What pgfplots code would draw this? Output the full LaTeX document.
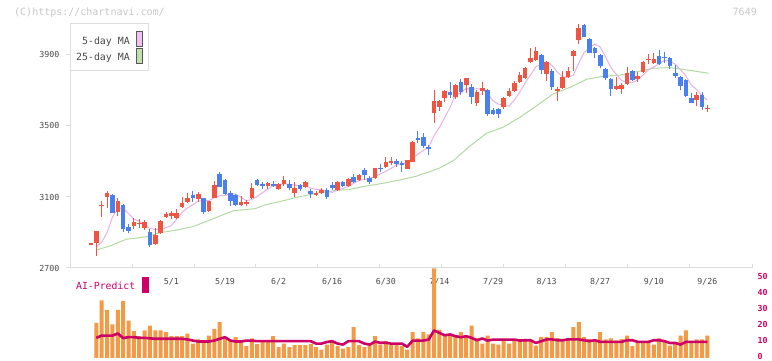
\documentclass[border=0pt]{standalone}
\usepackage{pgfplots}
\pgfplotsset{compat=1.18}
\usepackage{pgfplotstable}
\usepackage{fontspec}
\setmainfont{DejaVu Sans Mono}
\definecolor{upc}{HTML}{F05542}
\definecolor{dnc}{HTML}{4A7FEE}
\definecolor{maf}{HTML}{E8B2E8}
\definecolor{mat}{HTML}{B2DAA2}
\definecolor{volc}{HTML}{F29A45}
\definecolor{aic}{HTML}{CC0066}
\definecolor{axc}{HTML}{DDDDDD}
\definecolor{txt}{HTML}{4A4A4A}
\definecolor{cpy}{HTML}{C8C8C8}

\pgfplotstableread{
i O H L C
0 2833 2838 2833 2838
1 2843 2908 2769 2908
2 3050 3078 2989 3057
3 3098 3135 3040 3120
5 3018 3093 2995 3078
8 2938 2980 2918 2957
9 2948 2975 2925 2955
10 2924 2968 2915 2961
12 2835 2924 2828 2884
13 2897 2968 2890 2965
14 2990 3015 2980 3006
15 2992 3020 2975 3012
16 2984 3031 2978 3012
17 3045 3102 3040 3068
18 3070 3124 3065 3093
20 3087 3128 3070 3117
22 3023 3080 3018 3077
23 3096 3192 3092 3168
28 3057 3105 3050 3073
29 3058 3085 3050 3072
30 3093 3177 3088 3149
33 3162 3183 3145 3177
35 3145 3180 3140 3173
36 3173 3218 3163 3196
38 3124 3186 3098 3152
40 3158 3190 3150 3183
42 3114 3134 3105 3121
43 3124 3148 3115 3139
46 3139 3190 3135 3186
48 3162 3205 3158 3201
50 3196 3230 3190 3224
53 3205 3265 3200 3261
55 3271 3324 3265 3299
56 3295 3324 3280 3302
59 3258 3310 3255 3308
60 3299 3415 3295 3411
64 3575 3703 3519 3641
65 3609 3645 3586 3641
66 3659 3700 3637 3697
68 3665 3737 3650 3731
70 3731 3772 3684 3770
72 3632 3700 3610 3694
73 3699 3750 3675 3714
77 3606 3665 3595 3656
78 3669 3713 3661 3697
79 3697 3753 3689 3744
80 3746 3806 3740 3787
81 3769 3833 3765 3829
82 3860 3938 3855 3885
83 3872 3942 3868 3923
85 3791 3865 3754 3861
87 3700 3718 3641 3707
88 3712 3807 3707 3773
89 3775 3834 3770 3810
90 3894 3928 3810 3925
91 3985 4075 3962 4054
98 3708 3775 3703 3725
99 3708 3742 3680 3731
100 3737 3834 3731 3801
102 3765 3802 3750 3784
103 3806 3865 3800 3862
104 3872 3904 3848 3879
105 3856 3913 3850 3877
113 3647 3690 3613 3675
115 3596 3618 3580 3602
}\tabup

\pgfplotstableread{
i O H L C
4 3111 3115 3010 3012
6 3055 3059 2901 2918
7 2933 2948 2895 2910
11 2905 2918 2817 2830
19 3111 3135 3074 3094
21 3094 3096 3002 3017
24 3230 3243 3155 3158
25 3196 3200 3110 3117
26 3121 3133 3050 3080
27 3110 3115 3050 3055
31 3196 3200 3160 3168
32 3173 3185 3143 3160
34 3172 3190 3155 3165
37 3173 3196 3140 3149
39 3168 3173 3132 3143
41 3134 3143 3096 3117
44 3139 3148 3087 3102
45 3168 3185 3140 3149
47 3186 3190 3158 3162
49 3215 3228 3180 3186
51 3252 3265 3196 3224
52 3205 3220 3175 3186
54 3264 3283 3240 3257
57 3300 3315 3270 3288
58 3292 3300 3243 3283
61 3430 3473 3402 3421
62 3436 3462 3374 3387
63 3380 3390 3336 3372
67 3692 3750 3659 3673
69 3748 3763 3675 3690
71 3722 3735 3622 3665
74 3703 3706 3556 3566
75 3590 3600 3562 3570
76 3595 3600 3545 3570
84 3900 3905 3793 3816
86 3807 3821 3703 3718
92 4069 4072 4000 4003
93 3990 3993 3910 3913
94 3941 3945 3885 3913
95 3900 3903 3825 3840
96 3819 3827 3760 3769
97 3765 3770 3671 3708
101 3810 3815 3755 3759
106 3893 3928 3845 3851
107 3890 3915 3855 3883
108 3885 3890 3823 3840
109 3797 3844 3769 3782
110 3778 3780 3703 3727
111 3759 3762 3665 3671
112 3659 3688 3628 3631
114 3675 3693 3590 3609
}\tabdn

\pgfplotstableread{
i m
1 2820
2 2845
3 2900
4 2987
5 3035
6 3036
7 3007
8 2975
9 2964
10 2939
11 2923
12 2917
13 2918
14 2928
15 2939
16 2976
17 3013
18 3038
19 3056
20 3077
21 3078
22 3080
23 3095
24 3107
25 3107
26 3120
27 3116
28 3097
29 3079
30 3086
31 3103
32 3124
33 3145
34 3164
35 3169
36 3174
37 3172
38 3167
39 3163
40 3165
41 3149
42 3143
43 3141
44 3132
45 3126
46 3139
47 3148
48 3160
49 3177
50 3192
51 3199
52 3204
53 3216
54 3230
55 3245
56 3261
57 3281
58 3286
59 3296
60 3318
61 3342
62 3362
63 3380
64 3446
65 3492
66 3548
67 3605
68 3677
69 3686
70 3712
71 3706
72 3710
73 3707
74 3682
75 3642
76 3623
77 3615
78 3612
79 3647
80 3691
81 3743
82 3788
83 3834
84 3848
85 3863
86 3841
87 3805
88 3775
89 3774
90 3787
91 3854
92 3913
93 3941
94 3962
95 3945
96 3888
97 3829
98 3791
99 3755
100 3747
101 3745
102 3760
103 3787
104 3817
105 3832
106 3851
107 3870
108 3866
109 3847
110 3817
111 3781
112 3730
113 3705
114 3670
115 3645
}\tabmaf

\pgfplotstableread{
i m
1 2801
3.5 2824
6.6 2862
10.4 2876
12.9 2899
16 2914
19 2933
22.2 2970
25.3 3008
26.6 3023
30.6 3034
32.4 3055
35.9 3079
39 3102
42.1 3121
45.2 3135
48.3 3143
51.4 3162
54.5 3177
57.7 3196
60.8 3218
63.9 3250
65.1 3264
67.6 3305
70.7 3387
73.8 3459
76.9 3493
80 3548
83.1 3613
86.2 3680
89.4 3718
92.5 3763
95.6 3780
98.7 3787
101.8 3806
104.9 3825
108 3829
111.1 3816
115.2 3797
}\tabmat

\pgfplotstableread{
i v a
1 22 12.6
2 36 14
3 30 14
4 21 14
5 30 15.3
6 35.5 12.5
7 23.4 13
8 16.8 13
9 13.6 12.6
10 17.2 12.6
11 20.3 12.3
12 17.2 12
13 17.2 12
14 16.1 12
15 13.6 12
16 13.6 12
17 13.6 12
18 15.3 11.6
19 9 10.9
20 11.6 10.3
21 10.5 10.3
22 14 10.3
23 18.2 10.9
24 22.4 12
25 13 13
26 10.5 10.9
27 13 10.3
28 10.5 10.3
29 7.4 10.9
30 12.2 10.9
31 8.6 10.5
32 9.9 10.5
33 10.9 10.5
34 13.6 10.5
35 6.8 10.5
36 9 10.5
37 6.8 10.5
38 8 10.5
39 8 10.5
40 8 10.5
41 8.9 10.5
42 6.8 9
43 5.3 9
44 8.4 10
45 9.9 10.5
46 7.4 9
47 5.9 8.4
48 6.8 10.5
49 19.3 10.5
50 8 10.5
51 6.8 9
52 8 8.4
53 13.6 10.2
54 8.4 9.5
55 10.5 9.5
56 8.4 9
57 8 9
58 7.4 9
59 5.3 7
60 16.1 10.9
61 12.2 10.9
62 16.1 10.9
63 14.7 11.5
64 56 17.2
65 17.8 15.7
66 14 14.2
67 14.7 14.7
68 13.6 13.6
69 16.1 13
70 13.6 13.6
71 20.3 12.6
72 12.6 11.1
73 9 12.2
74 14 10.9
75 9 11.5
76 8.4 11.5
77 10.9 11.5
78 9 11.5
79 10.9 11.5
80 10.9 10.9
81 10.5 11.1
82 10.5 11.1
83 7.8 9.4
84 13.2 10.5
85 13.2 11.6
86 16.1 11.6
87 12.6 11.1
88 11.6 11.1
89 12.6 11.6
90 19.3 11.6
91 22.4 11.6
92 13.2 11.1
93 12 10.5
94 11.6 11.1
95 16.1 10.1
96 11.6 10.1
97 12.2 10.1
98 10.9 10.1
99 12 10.1
100 14 11.1
101 7.4 11.1
102 10.5 10.1
103 10.5 10.1
104 10.5 10.1
105 8.4 11.1
106 12.2 11.1
107 10.9 10.5
108 7.8 9.4
109 8.9 9.4
110 14 8.4
111 17.2 10.1
112 10.5 10.1
113 11.6 10.1
114 11.6 10.1
115 14 10.1
}\tabvol

\begin{document}
\begin{tikzpicture}[x=1pt,y=1pt]
\path[use as bounding box, fill=white] (0,0) rectangle (772,361);

\begin{axis}[
  at={(70pt,93pt)}, anchor=south west, scale only axis,
  width=682pt, height=245pt,
  xmin=-3.918, xmax=123.32, ymin=2700, ymax=4080,
  axis lines=left, axis line style={-, draw=axc, line width=1pt},
  ytick={2700,3100,3500,3900}, yticklabels={2700,3100,3500,3900},
  xtick={-3.918,7.649,19.216,30.783,42.35,53.917,65.484,77.051,88.618,100.185,111.752,123.32},
  xticklabels={},
  extra x ticks={15,25,35,45,55,65,75,85,95,105,115},
  extra x tick labels={5/1,5/19,6/2,6/16,6/30,7/14,7/29,8/13,8/27,9/10,9/26},
  extra x tick style={major tick length=0pt, tick label style={yshift=-7pt}},
  xtick align=inside, ytick align=outside, major tick length=4pt,
  tick style={draw=axc, line width=1pt},
  ticklabel style={font=\fontsize{8.3}{10}\selectfont, text=txt},
  yticklabel style={xshift=-3pt},
  candle/.style={draw=none, no markers, error bars/.cd, y dir=both, y explicit, error mark=none},
]
\addplot[mat, line width=1pt] table[x=i, y=m] {\tabmat};
\addplot[maf, line width=1pt] table[x=i, y=m] {\tabmaf};
% wicks
\addplot[candle, error bar style={draw=upc, line width=1pt}]
  table[x=i, y expr={(\thisrow{H}+\thisrow{L})/2}, y error expr={(\thisrow{H}-\thisrow{L})/2}] {\tabup};
\addplot[candle, error bar style={draw=dnc, line width=1pt}]
  table[x=i, y expr={(\thisrow{H}+\thisrow{L})/2}, y error expr={(\thisrow{H}-\thisrow{L})/2}] {\tabdn};
% bodies
\addplot[candle, error bar style={draw=upc, line width=4.6pt}]
  table[x=i, y expr={(\thisrow{O}+\thisrow{C})/2}, y error expr={(\thisrow{C}-\thisrow{O})/2}] {\tabup};
\addplot[candle, error bar style={draw=dnc, line width=4.6pt}]
  table[x=i, y expr={(\thisrow{O}+\thisrow{C})/2}, y error expr={(\thisrow{O}-\thisrow{C})/2}] {\tabdn};
\end{axis}

\begin{axis}[
  at={(70pt,3pt)}, anchor=south west, scale only axis,
  width=682pt, height=80pt,
  xmin=-3.918, xmax=123.32, ymin=0, ymax=50,
  clip=false,
  axis line style={draw=none}, xtick=\empty,
  ytick={0,10,20,30,40,50}, yticklabels={0,10,20,30,40,50},
  yticklabel pos=right, major tick length=0pt,
  ticklabel style={font=\fontsize{8.3}{10}\selectfont\bfseries, text=aic},
  yticklabel style={xshift=2pt, yshift=1.2pt},
]
\addplot[ybar, bar width=4pt, bar shift=0pt, fill=volc, draw=none] table[x=i, y=v] {\tabvol};
\addplot[aic, line width=2.6pt, line join=round] table[x=i, y=a] {\tabvol};
\end{axis}

% legend
\draw[axc, fill=white, line width=1pt] (70,337) rectangle (148,290);
\node[anchor=east, inner sep=0pt, text=txt, font=\fontsize{9.9}{11}\selectfont] at (130,319.3) {5-day MA};
\node[anchor=east, inner sep=0pt, text=txt, font=\fontsize{9.9}{11}\selectfont] at (130,303.7) {25-day MA};
\draw[fill={rgb,255:red,240;green,192;blue,240}, draw=black!65, line width=0.8pt] (136.5,329.5) rectangle (142.5,314.5);
\draw[fill={rgb,255:red,192;green,224;blue,176}, draw=black!65, line width=0.8pt] (136.5,312.5) rectangle (142.5,297.5);

\node[anchor=west, inner sep=0pt, text=aic, font=\fontsize{9.8}{11}\selectfont] at (76,75) {AI-Predict};
\fill[aic] (142.3,84.3) rectangle (148.7,68.3);

\node[anchor=west, inner sep=0pt, text=cpy, font=\fontsize{10}{12}\selectfont] at (14,348.5) {(C)https://chartnavi.com/};
\node[anchor=east, inner sep=0pt, text=cpy, font=\fontsize{10}{12}\selectfont] at (757,348.7) {7649};
\end{tikzpicture}
\end{document}
